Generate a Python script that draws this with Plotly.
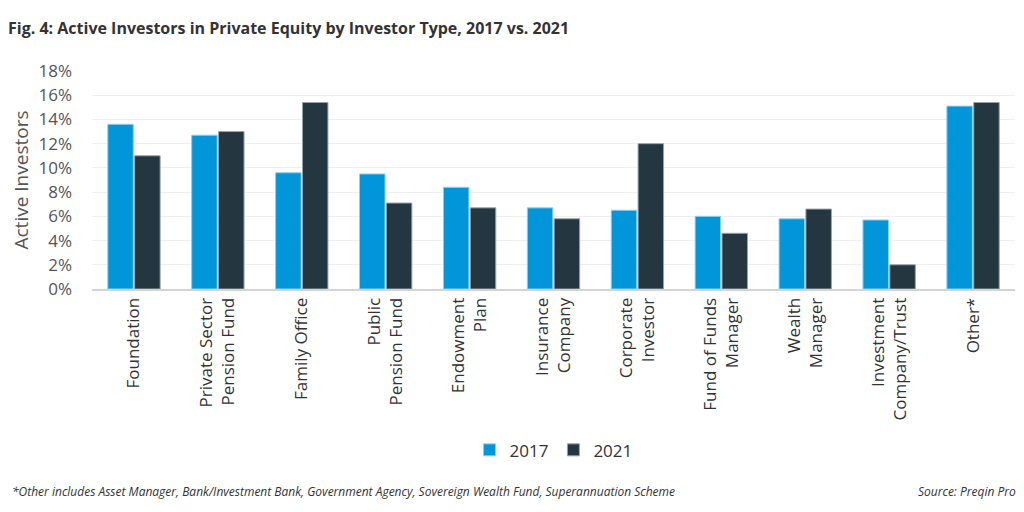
import plotly.graph_objects as go

# investor types (category axis), line breaks as on the original chart
categories = [
    "Foundation",
    "Private Sector<br>Pension Fund",
    "Family Office",
    "Public<br>Pension Fund",
    "Endowment<br>Plan",
    "Insurance<br>Company",
    "Corporate<br>Investor",
    "Fund of Funds<br>Manager",
    "Wealth<br>Manager",
    "Investment<br>Company/Trust",
    "Other*",
]

# share of active investors (%)
share_2017 = [13.6, 12.7, 9.6, 9.5, 8.4, 6.7, 6.5, 6.0, 5.8, 5.7, 15.1]
share_2021 = [11.0, 13.0, 15.4, 7.1, 6.7, 5.8, 12.0, 4.6, 6.6, 2.0, 15.4]

y_ticks = [0, 2, 4, 6, 8, 10, 12, 14, 16, 18]

FONT = "Open Sans"
BLUE = "#0096d9"
DARK = "#24363f"

fig = go.Figure()
fig.add_trace(go.Bar(
    name="2017", x=categories, y=share_2017,
    marker=dict(color=BLUE, line=dict(color="#8fd0f0", width=1)),
))
fig.add_trace(go.Bar(
    name="2021", x=categories, y=share_2021,
    marker=dict(color=DARK, line=dict(color="#9aa4aa", width=1)),
))

fig.update_layout(
    width=1024, height=512,
    paper_bgcolor="white", plot_bgcolor="white",
    font=dict(family=FONT, color="#555555"),
    barmode="group",
    bargap=0.36,
    bargroupgap=0.05,
    margin=dict(l=84, r=17, t=63, b=231),
    title=dict(
        text="<b>Fig. 4: Active Investors in Private Equity by Investor Type, 2017 vs. 2021</b>",
        x=0, xref="container", xanchor="left",
        y=0.961, yref="container", yanchor="middle",
        pad=dict(l=0),
        font=dict(family=FONT, size=16, color="#333333"),
    ),
    xaxis=dict(
        showgrid=False,
        tickangle=-90,
        tickfont=dict(size=17, color="#333333"),
        showline=True, linecolor="#d4d4d4", linewidth=2,
        ticks="",
        automargin=False,
    ),
    yaxis=dict(
        range=[0, 18],
        tickvals=y_ticks,
        ticktext=[f"{v}%" for v in y_ticks],
        tickfont=dict(size=17, color="#555555"),
        ticklabelstandoff=19,
        gridcolor="#efefef", gridwidth=1,
        zeroline=False,
        automargin=False,
        title=dict(text="Active Investors", font=dict(size=19, color="#555555"), standoff=14),
    ),
    legend=dict(
        orientation="h",
        x=0.5, xanchor="center",
        y=-0.74, yanchor="middle",
        font=dict(size=17, color="#333333"),
        itemwidth=30,
    ),
    annotations=[
        dict(
            text="<i>*Other includes Asset Manager, Bank/Investment Bank, Government Agency, Sovereign Wealth Fund, Superannuation Scheme</i>",
            x=-0.089, xref="paper", xanchor="left",
            y=-0.927, yref="paper", yanchor="middle",
            showarrow=False, font=dict(size=12, color="#333333"),
        ),
        dict(
            text="<i>Source: Preqin Pro</i>",
            x=1.003, xref="paper", xanchor="right",
            y=-0.927, yref="paper", yanchor="middle",
            showarrow=False, font=dict(size=12, color="#333333"),
        ),
    ],
)

fig.write_html("out.html")
